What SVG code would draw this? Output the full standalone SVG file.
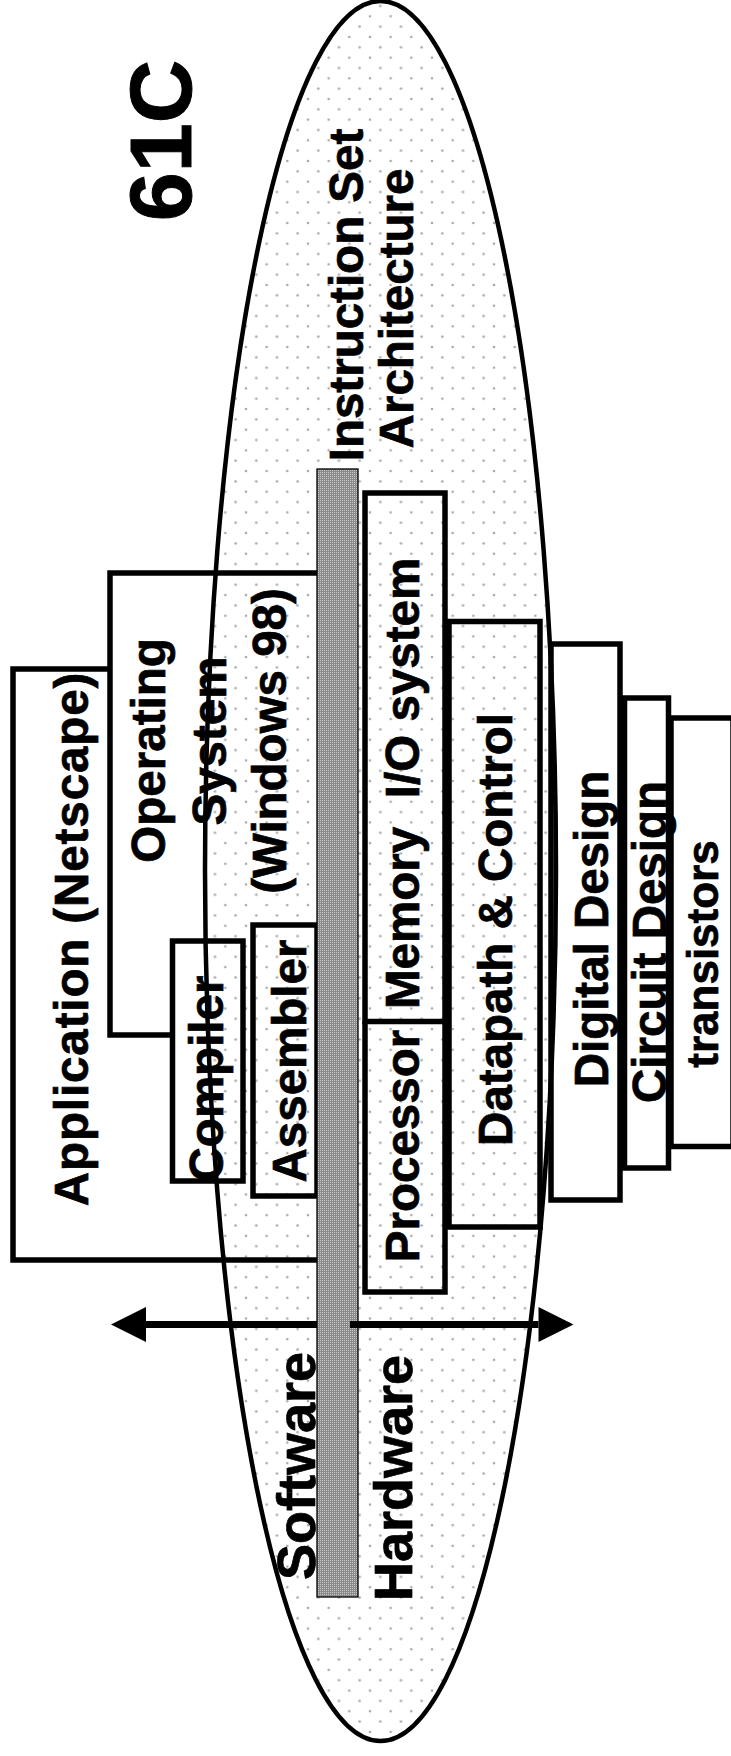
<svg xmlns="http://www.w3.org/2000/svg" width="731" height="1756" viewBox="0 0 731 1756">
  <defs>
    <!-- light stipple used inside the big ellipse -->
    <pattern id="stipple" patternUnits="userSpaceOnUse" x="18.6" y="16.3" width="20.67" height="20.67">
      <rect width="20.67" height="20.67" fill="#ffffff"/>
      <circle cx="0" cy="0" r="1.3" fill="#a8a8a8"/>
      <circle cx="20.67" cy="0" r="1.3" fill="#a8a8a8"/>
      <circle cx="0" cy="20.67" r="1.3" fill="#a8a8a8"/>
      <circle cx="20.67" cy="20.67" r="1.3" fill="#a8a8a8"/>
      <circle cx="10.33" cy="10.33" r="1.3" fill="#a8a8a8"/>
    </pattern>
    <!-- fine dither for the ISA bar -->
    <pattern id="dither" patternUnits="userSpaceOnUse" width="2" height="2">
      <rect width="2" height="2" fill="#8a8a8a"/>
      <rect width="1" height="1" fill="#cacaca"/>
    </pattern>
    <style>
      .box { fill: none; stroke: #000; stroke-width: 5.5; }
      .t { font-family: "Liberation Sans", Arial, Helvetica, sans-serif; font-weight: bold; font-size: 47.5px; fill: #000; stroke: #000; stroke-width: 0.7; text-anchor: middle; }
      .big { font-size: 88px; stroke-width: 1; }
      .side { font-size: 54px; }
      .small { font-size: 44px; }
      .wide { letter-spacing: 0.9px; }
    </style>
  </defs>

  <!-- scope ellipse -->
  <g id="scope">
    <ellipse cx="380.5" cy="871" rx="175.5" ry="870" fill="url(#stipple)" stroke="#000" stroke-width="4.5"/>
  </g>

  <!-- software stack -->
  <g id="application">
    <path class="box" d="M317 1260 H13 V669 H110"/>
    <text class="t wide" transform="translate(88,939) rotate(-90)">Application (Netscape)</text>
  </g>
  <g id="operating-system">
    <path class="box" d="M172.5 1035 H110 V573 H317"/>
    <text class="t" transform="translate(164.5,750.5) rotate(-90)">Operating</text>
    <text class="t" transform="translate(226,741) rotate(-90)">System</text>
    <text class="t" transform="translate(286,741) rotate(-90)">(Windows 98)</text>
  </g>
  <g id="compiler">
    <rect class="box" x="172.5" y="941" width="70.5" height="240"/>
    <text class="t" transform="translate(223,1078.5) rotate(-90)">Compiler</text>
  </g>
  <g id="assembler">
    <rect class="box" x="253" y="925" width="64" height="271"/>
    <text class="t" transform="translate(305.5,1061) rotate(-90)">Assembler</text>
  </g>

  <!-- hardware stack -->
  <g id="io-system">
    <path class="box" d="M365 812 V493 H445 V812 H450"/>
    <text class="t" transform="translate(418.5,678) rotate(-90)">I/O system</text>
  </g>
  <g id="memory">
    <path class="box" d="M365 812 V1021.5 H450 M445 812 V1021.5"/>
    <text class="t" transform="translate(418.5,918) rotate(-90)">Memory</text>
  </g>
  <g id="processor">
    <path class="box" d="M365 1021.5 V1292 H445 V1021.5"/>
    <text class="t" transform="translate(418.5,1146) rotate(-90)">Processor</text>
  </g>
  <g id="datapath-control">
    <rect class="box" x="449" y="621.5" width="91" height="605.5"/>
    <text class="t" transform="translate(512,929.5) rotate(-90)">Datapath &amp; Control</text>
  </g>
  <g id="digital-design">
    <rect class="box" x="551" y="644" width="69" height="556"/>
    <text class="t" transform="translate(607.5,929) rotate(-90)">Digital Design</text>
  </g>
  <g id="circuit-design">
    <rect class="box" x="624.5" y="698" width="44" height="470"/>
    <text class="t" transform="translate(665.5,942) rotate(-90)">Circuit Design</text>
  </g>
  <g id="transistors">
    <rect class="box" x="671" y="718" width="62" height="428.5"/>
    <text class="t small" transform="translate(718,954) rotate(-90)">transistors</text>
  </g>

  <!-- software / hardware divide -->
  <g id="connectors">
    <line x1="146" y1="1324.5" x2="317" y2="1324.5" stroke="#000" stroke-width="7"/>
    <polygon points="111,1324.5 146,1307 146,1342" fill="#000"/>
  </g>
  <g id="isa-bar">
    <rect x="317" y="469" width="41" height="1128" fill="url(#dither)" stroke="#000" stroke-width="1.3"/>
  </g>
  <g id="connectors-right">
    <line x1="350" y1="1324.5" x2="538.5" y2="1324.5" stroke="#000" stroke-width="7"/>
    <polygon points="573.5,1324.5 538.5,1307 538.5,1342" fill="#000"/>
  </g>

  <!-- labels -->
  <g id="title">
    <text class="t big" transform="translate(191,140.5) rotate(-90)">61C</text>
  </g>
  <g id="isa-label">
    <text class="t" transform="translate(363,295) rotate(-90)">Instruction Set</text>
    <text class="t" transform="translate(412.5,308.5) rotate(-90)">Architecture</text>
  </g>
  <g id="software-label">
    <text class="t side" transform="translate(315,1466) rotate(-90)">Software</text>
  </g>
  <g id="hardware-label">
    <text class="t side" transform="translate(411.5,1478) rotate(-90)">Hardware</text>
  </g>
</svg>
